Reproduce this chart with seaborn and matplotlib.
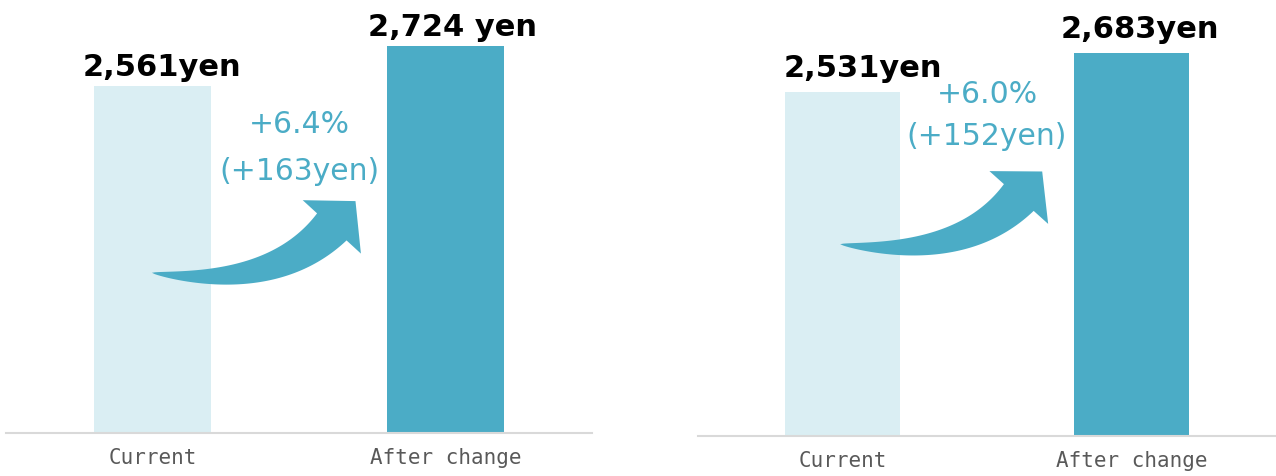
import numpy as np
import matplotlib.pyplot as plt
import seaborn as sns
from matplotlib.patches import Polygon

# datos
categories = ["Current", "After change"]

left_values = [2561, 2724]
left_labels = ["2,561yen", "2,724 yen"]
left_change = ["+6.4%", "(+163yen)"]

right_values = [2531, 2683]
right_labels = ["2,531yen", "2,683yen"]
right_change = ["+6.0%", "(+152yen)"]

light = "#DAEEF3"
teal = "#4BACC6"

sns.set_style("white")
plt.rcParams["font.family"] = ["DejaVu Sans"]

fig = plt.figure(figsize=(12.76, 4.76), dpi=100)
ax1 = fig.add_axes([6 / 1276, 43 / 476, 586 / 1276, 433 / 476])
ax2 = fig.add_axes([698 / 1276, 40 / 476, 578 / 1276, 436 / 476])


def curved_arrow(ax, tail, ctrl, base, tail_w=40, head_w=79, head_l=35):
    # flecha curva con cola en punta (coordenadas en fraccion de ejes, anchos en px)
    p0, p1, p2 = (ax.transAxes.transform(p) for p in (tail, ctrl, base))
    t = np.linspace(0, 1, 80)[:, None]
    c = (1 - t) ** 2 * p0 + 2 * (1 - t) * t * p1 + t ** 2 * p2
    d = 2 * (1 - t) * (p1 - p0) + 2 * t * (p2 - p1)
    d = d / np.linalg.norm(d, axis=1, keepdims=True)
    n = np.column_stack([-d[:, 1], d[:, 0]])
    w = tail_w / 2 * t ** 0.7
    upper = c + n * w
    lower = c - n * w
    dend, nend = d[-1], n[-1]
    head = [p2 + nend * head_w / 2, p2 + dend * head_l, p2 - nend * head_w / 2]
    pts = np.vstack([upper, head, lower[::-1]])
    pts = ax.transAxes.inverted().transform(pts)
    ax.add_patch(Polygon(pts, closed=True, transform=ax.transAxes, facecolor=teal,
                         edgecolor="none", clip_on=False))


def panel(ax, values, labels, change, ylim, label_dx, label_dy, change_y, arrow):
    sns.barplot(x=categories, y=values, hue=categories, palette=[light, teal],
                width=0.4, saturation=1, legend=False, linewidth=0, ax=ax)
    ax.set_xlim(-0.5, 1.5)
    ax.set_ylim(*ylim)
    ax.set_yticks([])
    ax.set_xlabel("")
    ax.set_ylabel("")
    for s in ["left", "right", "top"]:
        ax.spines[s].set_visible(False)
    ax.spines["bottom"].set_color("#D9D9D9")
    ax.spines["bottom"].set_linewidth(1.5)
    ax.tick_params(axis="x", length=0, pad=11, labelsize=15, labelcolor="#595959")
    for t in ax.get_xticklabels():
        t.set_family("DejaVu Sans Mono")

    # etiquetas de valor
    for i, (v, lab) in enumerate(zip(values, labels)):
        ax.annotate(lab, (i, v), xytext=(label_dx[i], label_dy), textcoords="offset points",
                    ha="center", va="baseline", fontsize=22, fontweight="bold",
                    color="black")

    # texto de variacion
    tr = ax.get_xaxis_transform()
    ax.text(0.5, change_y[0], change[0], transform=tr, ha="center", va="center",
            fontsize=21.5, color=teal)
    ax.text(0.5, change_y[1], change[1], transform=tr, ha="center", va="center",
            fontsize=21.5, color=teal)

    curved_arrow(ax, *arrow)


panel(ax1, left_values, left_labels, left_change, (1147, 2911), [7, 5], 7,
      [0.712, 0.605], [(0.249, 0.370), (0.457, 0.330), (0.556, 0.476)])
panel(ax2, right_values, right_labels, right_change, (1190, 2889), [15, 6], 11,
      [0.784, 0.688], [(0.246, 0.440), (0.457, 0.4025), (0.555, 0.547)])

fig.savefig("out.png", dpi=100)
plt.close()
